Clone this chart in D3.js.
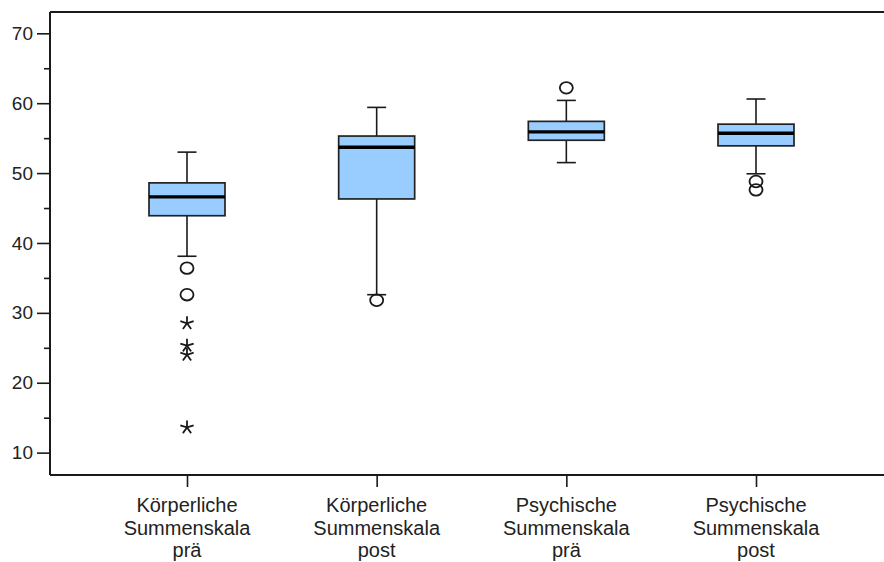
<!DOCTYPE html>
<html>
<head>
<meta charset="utf-8">
<script src="https://cdn.jsdelivr.net/npm/d3@7/dist/d3.min.js"></script>
<style>
  html, body { margin: 0; padding: 0; background: #fff; }
  svg { display: block; font-family: "Liberation Sans", Arial, sans-serif; }
</style>
</head>
<body>
<svg id="chart" width="884" height="562"></svg>
<script>
// Summenskalen (körperlich / psychisch), prä und post
const categories = ["kp", "kpost", "pp", "ppost"];
const labelLines = [
  ["Körperliche", "Summenskala", "prä"],
  ["Körperliche", "Summenskala", "post"],
  ["Psychische", "Summenskala", "prä"],
  ["Psychische", "Summenskala", "post"]
];
const whiskerLow  = [38.1, 32.6, 51.5, 49.9];
const q1          = [43.9, 46.3, 54.7, 53.9];
const median      = [46.6, 53.7, 55.9, 55.7];
const q3          = [48.6, 55.3, 57.4, 57.0];
const whiskerHigh = [53.0, 59.4, 60.4, 60.6];
// Ausreißer (Kreis) und Extremwerte (Stern)
const outliers = [[36.4, 32.6], [31.8], [62.2], [48.8, 47.6]];
const extremes = [[28.5, 25.3, 24.0, 13.6], [], [], []];
const yTicks = [10, 20, 30, 40, 50, 60, 70];
const yMinorTicks = [15, 25, 35, 45, 55, 65];

const svg = d3.select("#chart");
const plotLeft = 50, plotTop = 12, plotBottom = 475, plotRight = 884;

const y = d3.scaleLinear().domain([6.8, 73.05]).range([plotBottom, plotTop]);
const x = d3.scalePoint().domain(categories).range([187, 756]);

const boxW = 76, capW = 19;
const ink = "#1a1a1a";

// frame
svg.append("line").attr("x1", plotLeft).attr("x2", plotRight).attr("y1", plotTop).attr("y2", plotTop)
  .attr("stroke", ink).attr("stroke-width", 2);
svg.append("line").attr("x1", plotLeft).attr("x2", plotRight).attr("y1", plotBottom).attr("y2", plotBottom)
  .attr("stroke", ink).attr("stroke-width", 2);

// y axis
const yAxis = d3.axisLeft(y).tickValues(yTicks).tickSize(13).tickPadding(4).tickSizeOuter(0);
const gy = svg.append("g").attr("transform", `translate(${plotLeft},0)`).call(yAxis);
gy.select(".domain").attr("stroke", ink).attr("stroke-width", 2)
  .attr("d", `M0,${plotTop}V${plotBottom}`);
gy.selectAll(".tick line").attr("stroke", ink).attr("stroke-width", 1.6);
gy.selectAll(".tick text").attr("font-size", 19).attr("fill", "#222")
  .attr("font-family", "Liberation Sans, Arial, sans-serif");
const yMinor = d3.axisLeft(y).tickValues(yMinorTicks).tickSize(6).tickFormat("").tickSizeOuter(0);
const gym = svg.append("g").attr("transform", `translate(${plotLeft},0)`).call(yMinor);
gym.select(".domain").remove();
gym.selectAll(".tick line").attr("stroke", ink).attr("stroke-width", 1.6);

// x axis ticks and labels
const xAxis = d3.axisBottom(x).tickSize(12).tickFormat("").tickSizeOuter(0);
const gx = svg.append("g").attr("transform", `translate(0,${plotBottom})`).call(xAxis);
gx.select(".domain").remove();
gx.selectAll(".tick line").attr("stroke", ink).attr("stroke-width", 1.6);

categories.forEach((c, i) => {
  const t = svg.append("text").attr("text-anchor", "middle").attr("font-size", 20)
    .attr("fill", "#222");
  labelLines[i].forEach((ln, j) => {
    t.append("tspan").attr("x", x(c)).attr("y", 512 + j * 22.5).text(ln);
  });
});

// boxes
const g = svg.append("g");
categories.forEach((c, i) => {
  const cx = x(c);
  // whiskers
  g.append("line").attr("x1", cx).attr("x2", cx).attr("y1", y(whiskerHigh[i])).attr("y2", y(q3[i]))
    .attr("stroke", ink).attr("stroke-width", 1.6);
  g.append("line").attr("x1", cx).attr("x2", cx).attr("y1", y(q1[i])).attr("y2", y(whiskerLow[i]))
    .attr("stroke", ink).attr("stroke-width", 1.6);
  [whiskerHigh[i], whiskerLow[i]].forEach(v => {
    g.append("line").attr("x1", cx - capW / 2).attr("x2", cx + capW / 2)
      .attr("y1", y(v)).attr("y2", y(v)).attr("stroke", ink).attr("stroke-width", 1.6);
  });
  // box
  g.append("rect").attr("x", cx - boxW / 2).attr("width", boxW)
    .attr("y", y(q3[i])).attr("height", y(q1[i]) - y(q3[i]))
    .attr("fill", "#99ccff").attr("stroke", "#222").attr("stroke-width", 1.7);
  // median
  g.append("line").attr("x1", cx - boxW / 2).attr("x2", cx + boxW / 2)
    .attr("y1", y(median[i])).attr("y2", y(median[i]))
    .attr("stroke", "#000").attr("stroke-width", 3.4);
  // outliers
  outliers[i].forEach(v => {
    g.append("ellipse").attr("cx", cx).attr("cy", y(v)).attr("rx", 6.5).attr("ry", 5.8)
      .attr("fill", "none").attr("stroke", ink).attr("stroke-width", 1.8);
  });
  // extremes: five-spoke asterisk
  extremes[i].forEach(v => {
    const r = 7;
    let d = "";
    for (let k = 0; k < 5; k++) {
      const a = -Math.PI / 2 + k * 2 * Math.PI / 5;
      d += `M0,0L${(r * Math.cos(a)).toFixed(2)},${(r * Math.sin(a)).toFixed(2)}`;
    }
    g.append("path").attr("transform", `translate(${cx},${y(v)})`).attr("d", d)
      .attr("stroke", ink).attr("stroke-width", 1.8).attr("fill", "none");
  });
});
</script>
</body>
</html>
